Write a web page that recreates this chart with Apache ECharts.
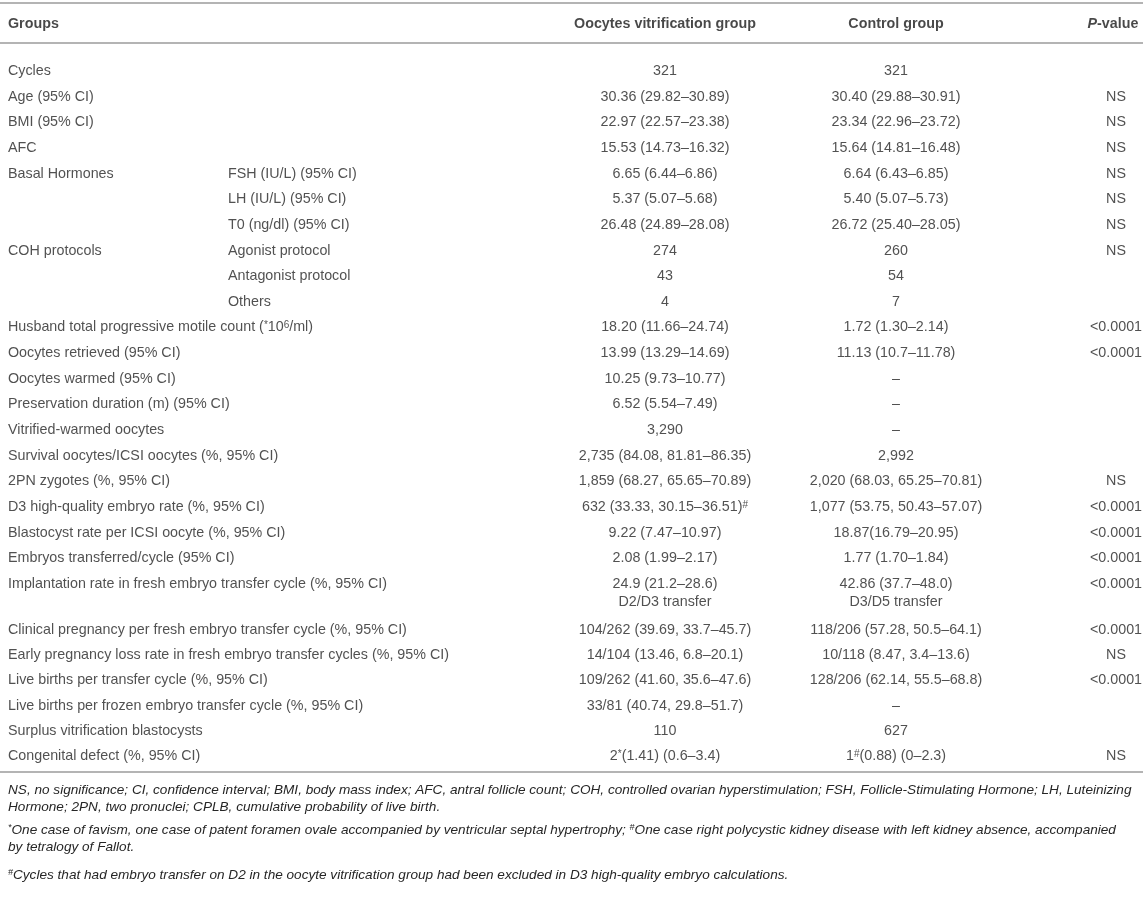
<!DOCTYPE html>
<html>
<head>
<meta charset="utf-8">
<title>Oocytes vitrification vs control</title>
<script src="https://cdn.jsdelivr.net/npm/echarts@6/dist/echarts.min.js"></script>
<style>
  html, body { margin: 0; padding: 0; background: #fff; }
  #table { width: 1143px; height: 903px; }
</style>
</head>
<body>
<div id="table"></div>
<script>
// 表格数据 ("^x" = 上标)
const headers = ['Groups', 'Oocytes vitrification group', 'Control group', '{it|P}-value'];

const rowLabels = [
  'Cycles', 'Age (95% CI)', 'BMI (95% CI)', 'AFC', 'Basal Hormones', '', '',
  'COH protocols', '', '',
  'Husband total progressive motile count (^*10^6/ml)',
  'Oocytes retrieved (95% CI)', 'Oocytes warmed (95% CI)',
  'Preservation duration (m) (95% CI)', 'Vitrified-warmed oocytes',
  'Survival oocytes/ICSI oocytes (%, 95% CI)', '2PN zygotes (%, 95% CI)',
  'D3 high-quality embryo rate (%, 95% CI)', 'Blastocyst rate per ICSI oocyte (%, 95% CI)',
  'Embryos transferred/cycle (95% CI)',
  'Implantation rate in fresh embryo transfer cycle (%, 95% CI)',
  'Clinical pregnancy per fresh embryo transfer cycle (%, 95% CI)',
  'Early pregnancy loss rate in fresh embryo transfer cycles (%, 95% CI)',
  'Live births per transfer cycle (%, 95% CI)',
  'Live births per frozen embryo transfer cycle (%, 95% CI)',
  'Surplus vitrification blastocysts', 'Congenital defect (%, 95% CI)',
];

const subLabels = [
  '', '', '', '', 'FSH (IU/L) (95% CI)', 'LH (IU/L) (95% CI)', 'T0 (ng/dl) (95% CI)',
  'Agonist protocol', 'Antagonist protocol', 'Others',
];

const vitrification = [
  '321', '30.36 (29.82–30.89)', '22.97 (22.57–23.38)', '15.53 (14.73–16.32)',
  '6.65 (6.44–6.86)', '5.37 (5.07–5.68)', '26.48 (24.89–28.08)', '274', '43', '4',
  '18.20 (11.66–24.74)', '13.99 (13.29–14.69)', '10.25 (9.73–10.77)', '6.52 (5.54–7.49)',
  '3,290', '2,735 (84.08, 81.81–86.35)', '1,859 (68.27, 65.65–70.89)',
  '632 (33.33, 30.15–36.51)^#', '9.22 (7.47–10.97)', '2.08 (1.99–2.17)', '24.9 (21.2–28.6)',
  '104/262 (39.69, 33.7–45.7)', '14/104 (13.46, 6.8–20.1)', '109/262 (41.60, 35.6–47.6)',
  '33/81 (40.74, 29.8–51.7)', '110', '2^*(1.41) (0.6–3.4)',
];

const control = [
  '321', '30.40 (29.88–30.91)', '23.34 (22.96–23.72)', '15.64 (14.81–16.48)',
  '6.64 (6.43–6.85)', '5.40 (5.07–5.73)', '26.72 (25.40–28.05)', '260', '54', '7',
  '1.72 (1.30–2.14)', '11.13 (10.7–11.78)', '–', '–', '–', '2,992',
  '2,020 (68.03, 65.25–70.81)', '1,077 (53.75, 50.43–57.07)', '18.87(16.79–20.95)',
  '1.77 (1.70–1.84)', '42.86 (37.7–48.0)', '118/206 (57.28, 50.5–64.1)',
  '10/118 (8.47, 3.4–13.6)', '128/206 (62.14, 55.5–68.8)', '–', '627', '1^#(0.88) (0–2.3)',
];

const pValues = [
  '', 'NS', 'NS', 'NS', 'NS', 'NS', 'NS', 'NS', '', '', '<0.0001', '<0.0001', '', '', '',
  '', 'NS', '<0.0001', '<0.0001', '<0.0001', '<0.0001', '<0.0001', 'NS', '<0.0001', '', '', 'NS',
];

const transferNotes = ['D2/D3 transfer', 'D3/D5 transfer'];
const transferRow = 20;

const footnotes = [
  'NS, no significance; CI, confidence interval; BMI, body mass index; AFC, antral follicle count; COH, controlled ovarian hyperstimulation; FSH, Follicle-Stimulating Hormone; LH, Luteinizing',
  'Hormone; 2PN, two pronuclei; CPLB, cumulative probability of live birth.',
  '^*One case of favism, one case of patent foramen ovale accompanied by ventricular septal hypertrophy; ^#One case right polycystic kidney disease with left kidney absence, accompanied',
  'by tetralogy of Fallot.',
  '^#Cycles that had embryo transfer on D2 in the oocyte vitrification group had been excluded in D3 high-quality embryo calculations.',
];

// 布局
const W = 1143;
const FONT = '"Liberation Sans", Arial, Helvetica, sans-serif';
const TEXT_COLOR = '#262626';
const RULE_COLOR = '#b4b4b4';
const colX = [8, 228, 665, 896, 1116];
const colAlign = ['left', 'left', 'center', 'center', 'center'];
const headerX = [8, 665, 896, 1113];
const splitAt = 21; // 表格分成两段 (Implantation 行带第二行)
const footY = [790, 807, 830, 847, 875];

function sup(s) {
  return s.replace(/\^(\S)/g, '{sup|$1}');
}

const richStyle = {
  sup: { fontSize: 10, verticalAlign: 'top', lineHeight: 10, fontFamily: FONT, color: TEXT_COLOR },
  it: { fontStyle: 'italic', fontWeight: 'bold', fontSize: 14.3, fontFamily: FONT, color: '#1a1a1a' },
};

function cell(col, row, text, extra, x) {
  const left = colAlign[col] === 'left';
  return {
    name: text,
    value: [x === undefined ? colX[col] : x, row],
    label: Object.assign({
      position: left ? 'right' : 'inside',
      distance: 0,
      align: left ? 'left' : 'center',
    }, extra || {}),
  };
}

function bodyCells(from, to) {
  const out = [];
  for (let i = from; i < to; i++) {
    const r = i - from;
    if (rowLabels[i]) out.push(cell(0, r, rowLabels[i]));
    if (subLabels[i]) out.push(cell(1, r, subLabels[i]));
    if (vitrification[i]) out.push(cell(2, r, vitrification[i]));
    if (control[i]) out.push(cell(3, r, control[i]));
    if (pValues[i]) out.push(cell(4, r, pValues[i]));
    if (i === transferRow) {
      out.push(cell(2, r, transferNotes[0], { offset: [0, 18] }));
      out.push(cell(3, r, transferNotes[1], { offset: [0, 18] }));
    }
  }
  return out;
}

function rowIndex(n) {
  return Array.from({ length: n }, (v, i) => String(i));
}

const grids = [
  { left: 0, right: 0, top: 9, height: 30 },
  { left: 0, right: 0, top: 58.2, height: 21 * 25.65 },
  { left: 0, right: 0, top: 617.4, height: 6 * 25.2 },
];
const rowCounts = [1, splitAt, rowLabels.length - splitAt];

const headerCells = headers.map((h, i) => cell(i === 0 ? 0 : i + 1, 0, h, null, headerX[i]));

const labelBase = {
  show: true,
  fontFamily: FONT,
  fontSize: 14.3,
  color: TEXT_COLOR,
  formatter: (p) => sup(p.name),
  rich: richStyle,
};

const chart = echarts.init(document.getElementById('table'), null, { renderer: 'canvas' });

const option = {
  animation: false,
  backgroundColor: '#fff',
  grid: grids,
  xAxis: grids.map((g, i) => ({
    type: 'value', gridIndex: i, min: 0, max: W, show: false,
  })),
  yAxis: grids.map((g, i) => ({
    type: 'category', gridIndex: i, inverse: true, show: false, data: rowIndex(rowCounts[i]),
  })),
  series: [
    {
      type: 'scatter', xAxisIndex: 0, yAxisIndex: 0, symbolSize: 0, silent: true,
      label: Object.assign({}, labelBase, { fontWeight: 'bold', color: '#1a1a1a' }),
      data: headerCells,
    },
    {
      type: 'scatter', xAxisIndex: 1, yAxisIndex: 1, symbolSize: 0, silent: true,
      label: labelBase,
      data: bodyCells(0, splitAt),
    },
    {
      type: 'scatter', xAxisIndex: 2, yAxisIndex: 2, symbolSize: 0, silent: true,
      label: labelBase,
      data: bodyCells(splitAt, rowLabels.length),
    },
  ],
  graphic: [
    // 表格横线
    { type: 'line', shape: { x1: 0, y1: 3, x2: W, y2: 3 }, style: { stroke: RULE_COLOR, lineWidth: 2 }, silent: true },
    { type: 'line', shape: { x1: 0, y1: 43, x2: W, y2: 43 }, style: { stroke: RULE_COLOR, lineWidth: 2 }, silent: true },
    { type: 'line', shape: { x1: 0, y1: 772, x2: W, y2: 772 }, style: { stroke: RULE_COLOR, lineWidth: 2 }, silent: true },
  ].concat(footnotes.map((t, i) => ({
    type: 'text',
    x: 8,
    y: footY[i],
    silent: true,
    style: {
      text: sup(t),
      fill: TEXT_COLOR,
      font: 'italic 13.6px ' + FONT,
      verticalAlign: 'middle',
      rich: {
        sup: { fontSize: 9, verticalAlign: 'top', lineHeight: 9, fontStyle: 'italic', fontFamily: FONT, fill: TEXT_COLOR },
      },
    },
  }))),
};

chart.setOption(option);
</script>
</body>
</html>
